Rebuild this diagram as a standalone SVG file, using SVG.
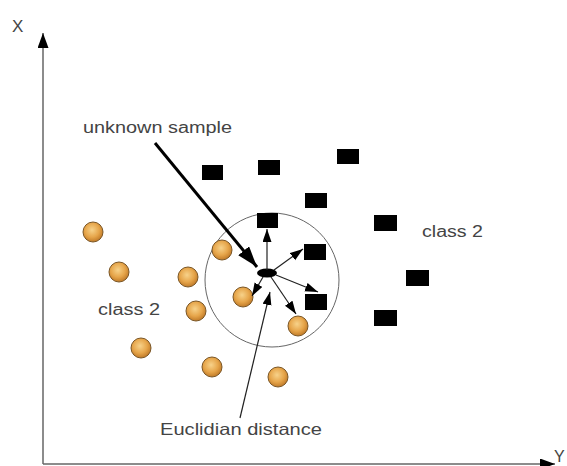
<svg xmlns="http://www.w3.org/2000/svg" width="567" height="466" viewBox="0 0 567 466">
  <style>
    .lbl { font-family: "Liberation Sans", Arial, sans-serif; fill: #444; }
    .sq { fill: #000; }
    .dot { fill: url(#ball); stroke: #7a5626; stroke-width: 1; }
    .axis { stroke: #666; stroke-width: 1.5; fill: none; }
    .thin { stroke: #222; stroke-width: 1.2; fill: none; marker-end: url(#tip); }
  </style>
  <defs>
    <radialGradient id="ball" cx="45%" cy="40%" r="60%">
      <stop offset="0" stop-color="#f7d28a"/>
      <stop offset="0.6" stop-color="#e6a54a"/>
      <stop offset="1" stop-color="#c07a28"/>
    </radialGradient>
    <marker id="tip" markerUnits="userSpaceOnUse" markerWidth="14" markerHeight="10" refX="13" refY="4.5" orient="auto">
      <path d="M0,0 L13,4.5 L0,9 z" fill="#000"/>
    </marker>
    <marker id="bigtip" markerUnits="userSpaceOnUse" markerWidth="22" markerHeight="15" refX="21" refY="7" orient="auto">
      <path d="M0,0 L21,7 L0,14 z" fill="#000"/>
    </marker>
    <marker id="axtip" markerUnits="userSpaceOnUse" markerWidth="16" markerHeight="12" refX="15" refY="5.5" orient="auto">
      <path d="M0,0 L15,5.5 L0,11 z" fill="#000"/>
    </marker>
  </defs>

  <rect width="567" height="466" fill="#fff"/>

  <!-- axes -->
  <g id="axes">
    <line class="axis" x1="43" y1="464" x2="43" y2="33" marker-end="url(#axtip)"/>
    <line class="axis" x1="43" y1="464" x2="555" y2="464" marker-end="url(#axtip)"/>
    <text class="lbl" x="12" y="32" font-size="17">X</text>
    <text class="lbl" x="554" y="462" font-size="16">Y</text>
  </g>

  <!-- neighbourhood circle -->
  <g id="radius">
    <circle cx="272" cy="280" r="67" fill="none" stroke="#666" stroke-width="1"/>
  </g>

  <!-- class of squares -->
  <g id="squares">
    <rect class="sq" x="202" y="165" width="21" height="15"/>
    <rect class="sq" x="258" y="160" width="22" height="15"/>
    <rect class="sq" x="337" y="149" width="22" height="15"/>
    <rect class="sq" x="305" y="193" width="22" height="15"/>
    <rect class="sq" x="257" y="213" width="21" height="15"/>
    <rect class="sq" x="304" y="244" width="22" height="16"/>
    <rect class="sq" x="305" y="294" width="22" height="16"/>
    <rect class="sq" x="374" y="215" width="23" height="16"/>
    <rect class="sq" x="406" y="270" width="23" height="16"/>
    <rect class="sq" x="374" y="310" width="23" height="16"/>
  </g>

  <!-- class of circles -->
  <g id="circles">
    <circle class="dot" cx="93" cy="232" r="10"/>
    <circle class="dot" cx="119" cy="272" r="10"/>
    <circle class="dot" cx="188" cy="277" r="10"/>
    <circle class="dot" cx="222" cy="250" r="10"/>
    <circle class="dot" cx="196" cy="311" r="10"/>
    <circle class="dot" cx="141" cy="348" r="10"/>
    <circle class="dot" cx="212" cy="367" r="10"/>
    <circle class="dot" cx="243" cy="297" r="10"/>
    <circle class="dot" cx="298" cy="326" r="10"/>
    <circle class="dot" cx="278" cy="377" r="10"/>
  </g>

  <!-- query point -->
  <g id="unknown">
    <ellipse cx="267" cy="273" rx="10" ry="4.5" fill="#000"/>
  </g>

  <!-- distance arrows and callouts -->
  <g id="connectors">
    <line class="thin" x1="267" y1="270" x2="267" y2="229"/>
    <line class="thin" x1="274" y1="270" x2="303" y2="249"/>
    <line class="thin" x1="276" y1="275" x2="318" y2="292"/>
    <line class="thin" x1="271" y1="277" x2="296" y2="314"/>
    <line class="thin" x1="263" y1="277" x2="252" y2="296"/>
    <line class="thin" x1="240" y1="418" x2="270" y2="292"/>
    <line x1="155" y1="143" x2="257" y2="267" stroke="#000" stroke-width="3" marker-end="url(#bigtip)"/>
  </g>

  <!-- labels -->
  <g id="labels">
    <text class="lbl" x="83" y="133" font-size="16" textLength="149" lengthAdjust="spacingAndGlyphs">unknown sample</text>
    <text class="lbl" x="98" y="315" font-size="16" textLength="62" lengthAdjust="spacingAndGlyphs">class 2</text>
    <text class="lbl" x="422" y="237" font-size="16" textLength="61" lengthAdjust="spacingAndGlyphs">class 2</text>
    <text class="lbl" x="160" y="435" font-size="16.5" textLength="162" lengthAdjust="spacingAndGlyphs">Euclidian distance</text>
  </g>
</svg>
